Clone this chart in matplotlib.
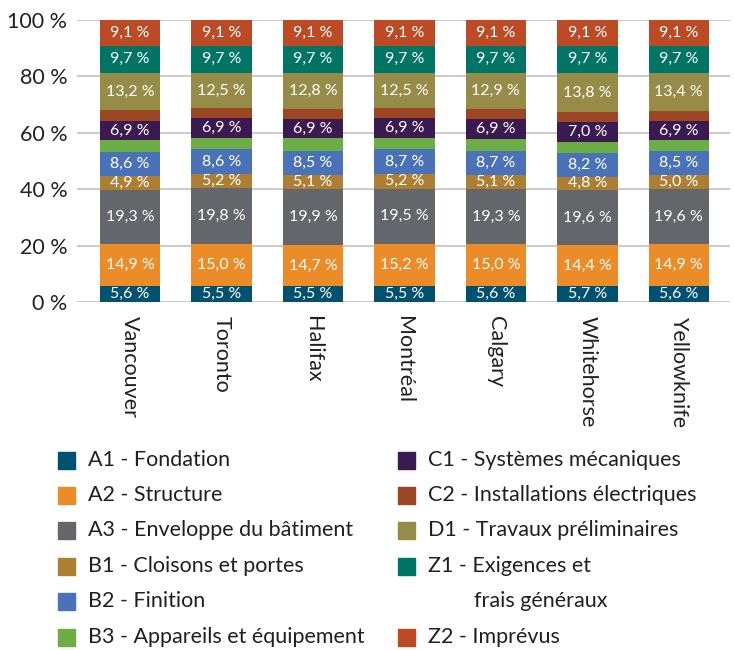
import matplotlib
matplotlib.use("Agg")
import matplotlib.pyplot as plt
from matplotlib.patches import Rectangle
import numpy as np

plt.rcParams['font.family'] = ['Lato', 'DejaVu Sans']

cities = ["Vancouver", "Toronto", "Halifax", "Montréal", "Calgary", "Whitehorse", "Yellowknife"]

series_names = [
    "A1 - Fondation",
    "A2 - Structure",
    "A3 - Enveloppe du bâtiment",
    "B1 - Cloisons et portes",
    "B2 - Finition",
    "B3 - Appareils et équipement",
    "C1 - Systèmes mécaniques",
    "C2 - Installations électriques",
    "D1 - Travaux préliminaires",
    "Z1 - Exigences et\nfrais généraux",
    "Z2 - Imprévus",
]

A1 = [5.6, 5.5, 5.5, 5.5, 5.6, 5.7, 5.6]
A2 = [14.9, 15.0, 14.7, 15.2, 15.0, 14.4, 14.9]
A3 = [19.3, 19.8, 19.9, 19.5, 19.3, 19.6, 19.6]
B1 = [4.9, 5.2, 5.1, 5.2, 5.1, 4.8, 5.0]
B2 = [8.6, 8.6, 8.5, 8.7, 8.7, 8.2, 8.5]
B3 = [4.1, 4.1, 4.3, 4.2, 4.2, 4.2, 3.8]
C1 = [6.9, 6.9, 6.9, 6.9, 6.9, 7.0, 6.9]
C2 = [3.7, 3.6, 3.5, 3.5, 3.5, 3.5, 3.5]
D1 = [13.2, 12.5, 12.8, 12.5, 12.9, 13.8, 13.4]
Z1 = [9.7, 9.7, 9.7, 9.7, 9.7, 9.7, 9.7]
Z2 = [9.1, 9.1, 9.1, 9.1, 9.1, 9.1, 9.1]

series = [A1, A2, A3, B1, B2, B3, C1, C2, D1, Z1, Z2]
labelled = [True, True, True, True, True, False, True, False, True, True, True]

colors = ["#00506f", "#ec8c28", "#63666a", "#ad7f33", "#4a72b8", "#6dad45",
          "#3b1a51", "#9c4623", "#978c47", "#007566", "#bb4a25"]

text_color = "#231f20"

fig = plt.figure(figsize=(7.34, 6.5), dpi=100)
W, H = 734, 650
ax = fig.add_axes([77 / W, (H - 302) / H, (730 - 77) / W, (302 - 20) / H])

x = np.arange(len(cities))
bottom = np.zeros(len(cities))
for vals, col, lab in zip(series, colors, labelled):
    vals = np.array(vals)
    ax.bar(x, vals, bottom=bottom, width=0.66, color=col, zorder=3, linewidth=0)
    if lab:
        for xi, b, v in zip(x, bottom, vals):
            ax.text(xi, b + v / 2, f"{v:.1f} %".replace(".", ","), ha="center",
                    va="center", color="white", fontsize=11.5, zorder=4)
    bottom += vals

ax.set_xlim(-0.58, 6.56)
ax.set_ylim(0, 100)
ax.set_yticks(np.arange(0, 101, 20))
ax.set_yticklabels([f"{t} %" for t in range(0, 101, 20)], fontsize=15.5, color=text_color)
ax.yaxis.grid(True, color="#cccccc", linewidth=1.5, zorder=0)
ax.set_axisbelow(True)
ax.tick_params(axis="y", length=0, pad=7)
ax.tick_params(axis="x", length=0, pad=10)
ax.set_xticks(x)
ax.set_xticklabels(cities, rotation=270, ha="center", va="top", fontsize=15.5, color=text_color)
for s in ax.spines.values():
    s.set_visible(False)

# Legend in two columns
rows_y = [460, 495, 530, 566, 601, 637]
left_idx = [0, 1, 2, 3, 4, 5]
right_idx = [6, 7, 8, 9, 10]
right_rows = [460, 495, 530, 566, 637]
sq = 17
legend_fs = 15.5


def legend_entry(i, xs, yc):
    fig.patches.append(Rectangle((xs / W, (H - yc - sq / 2) / H), sq / W, sq / H,
                                 transform=fig.transFigure, color=colors[i]))
    lines = series_names[i].split("\n")
    fig.text((xs + 30) / W, (H - yc) / H, lines[0], ha="left", va="center",
             fontsize=legend_fs, color=text_color)
    if len(lines) > 1:
        # continuation line aligned under the text after the code prefix
        fig.text((xs + 76) / W, (H - yc - 35) / H, lines[1], ha="left", va="center",
                 fontsize=legend_fs, color=text_color)


for i, yc in zip(left_idx, rows_y):
    legend_entry(i, 58, yc)
for i, yc in zip(right_idx, right_rows):
    legend_entry(i, 398, yc)

fig.savefig("out.png", dpi=100)
